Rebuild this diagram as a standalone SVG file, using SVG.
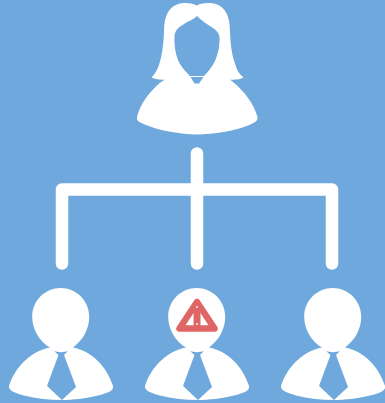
<svg xmlns="http://www.w3.org/2000/svg" width="385" height="403" viewBox="0 0 385 403">
<defs>
<style>.w{fill:#fff}.b{fill:#6fa8dc}.c{fill:none;stroke:#fff;stroke-width:12.5;stroke-linecap:round;stroke-linejoin:round}</style>
<g id="man">
<path class="w" d="M50 347.500C40 342 32.200 330 32.200 316.500C32.200 300.800 45 288 60.700 288C76.400 288 89.200 300.800 89.200 316.500C89.200 330 82 341 73 347.500C92 351 107 367 113 386C113.800 390 110 392.500 98 395.500C86 398.500 72 400 62 400C50 400 36 398.500 24 395.500C13 392.500 8.500 390 9 386C15 367 31 351 50 347.500Z"/>
<path class="b" d="M54 351C58 352.500 64 352.500 68 351L64 355L76 387L62 400L47 386L58.500 355Z"/>
</g>
</defs>
<rect width="385" height="403" class="b"/>
<g id="connectors"><path class="c" d="M197 153.500V263.500M62 263.500V189.500H332V263.500"/></g>
<g id="manager">
<path class="w" fill-rule="evenodd" d="M196.700 5.500C190 2.500 183 2.500 177 4.500C168 8 164 17 164 32C163.500 45 162 56 159 65C157 71 154 75 151.500 77.500C156 79.500 162 80 165 79.500L161 82C150 91 140 104 137 117C136.500 121 139 122 146 125C160 131 180 134 197 134.500C214 134 234 131 248 125.500C255 122.500 258 121 257.500 117C254 104 244 91 233 82L230 79.500C234 80 240 79.500 243.500 77.500C240 75 237 71 235.500 65C232 56 230.500 45 230 32C230 17 226 8 217 4.500C211 2.500 203 2.500 196.700 5.500ZM197 16C193 20 188 21 184 24C179 27 175 30 174.500 36C174 47 176 57 180 64C183 69 187 73 190 76L204 76C208 72 212 67 215 61C218 54 220 45 219.500 37C219 33 217 31 213 28C207 24 202 21 197 16Z"/>
<path class="b" d="M190.500 77L203.500 77L199 83.500H194.500Z"/>
</g>
<use id="employee-left" href="#man"/>
<g id="employee-center">
<use href="#man" x="136"/>
<path d="M197 302L179.500 328.500H214.500Z" fill="none" stroke="#e06666" stroke-width="6.500" stroke-linejoin="round"/>
<path d="M197 303V328" stroke="#e06666" stroke-width="7"/>
<circle cx="197" cy="307" r=".9" fill="#fff"/><circle cx="197" cy="324" r=".9" fill="#fff"/>
</g>
<use id="employee-right" href="#man" x="272"/>
</svg>
